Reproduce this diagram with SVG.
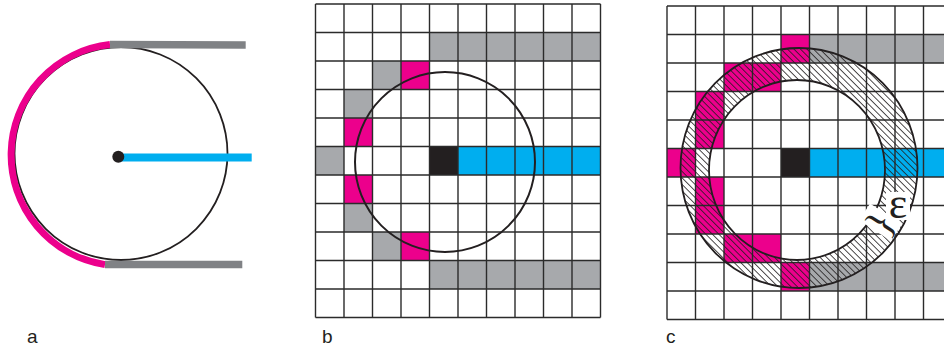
<svg xmlns="http://www.w3.org/2000/svg" width="944" height="350" viewBox="0 0 944 350">
<style>
.grid{fill:none;stroke:#2b2b2b;stroke-width:1.4}
.mag{fill:#EC008C}
.gry{fill:#A7A9AC}
.blk{fill:#231F20}
.cyn{fill:#00AEEF}
.circ{fill:none;stroke:#231F20;stroke-width:1.8}
.lbl{font-family:"Liberation Sans",Arial,sans-serif;font-size:19px;fill:#231F20}
.serif{font-family:"Liberation Serif","Times New Roman",serif;fill:#231F20}
</style>
<defs>
<pattern id="hatch" patternUnits="userSpaceOnUse" width="4.6" height="4.6" patternTransform="rotate(-45)">
<line x1="2.3" y1="0" x2="2.3" y2="4.6" stroke="#231F20" stroke-width="0.8"/>
</pattern>
</defs>
<rect width="944" height="350" fill="#fff"/>

<g id="panel-a">
<circle class="circ" cx="121" cy="153.5" r="106.5"/>
<path d="M110,44.6 A111,111 0 0 0 105,264.6" fill="none" stroke="#EC008C" stroke-width="7"/>
<line x1="110" y1="44.6" x2="245.7" y2="44.9" stroke="#808285" stroke-width="7.5"/>
<line x1="105" y1="264.6" x2="242.3" y2="264.6" stroke="#808285" stroke-width="7.5"/>
<line x1="118" y1="157.5" x2="251.7" y2="157.5" stroke="#00AEEF" stroke-width="8"/>
<circle cx="118.3" cy="156.8" r="6" class="blk"/>
</g>

<g id="panel-b">
<rect class="gry" x="429.5" y="32.5" width="171" height="28.5"/>
<rect class="gry" x="372.5" y="61" width="28.5" height="28.5"/>
<rect class="gry" x="344" y="89.5" width="28.5" height="28.5"/>
<rect class="gry" x="315.5" y="146.5" width="28.5" height="28.5"/>
<rect class="gry" x="344" y="203.5" width="28.5" height="28.5"/>
<rect class="gry" x="372.5" y="232" width="28.5" height="28.5"/>
<rect class="gry" x="429.5" y="260.5" width="171" height="28.5"/>
<rect class="mag" x="401" y="61" width="28.5" height="28.5"/>
<rect class="mag" x="344" y="118" width="28.5" height="28.5"/>
<rect class="mag" x="344" y="175" width="28.5" height="28.5"/>
<rect class="mag" x="401" y="232" width="28.5" height="28.5"/>
<rect class="blk" x="429.5" y="146.5" width="28.5" height="28.5"/>
<rect class="cyn" x="458" y="146.5" width="142.5" height="28.5"/>
<path class="grid" d="M315.5,4V317.5M344,4V317.5M372.5,4V317.5M401,4V317.5M429.5,4V317.5M458,4V317.5M486.5,4V317.5M515,4V317.5M543.5,4V317.5M572,4V317.5M600.5,4V317.5M315.5,4H600.5M315.5,32.5H600.5M315.5,61H600.5M315.5,89.5H600.5M315.5,118H600.5M315.5,146.5H600.5M315.5,175H600.5M315.5,203.5H600.5M315.5,232H600.5M315.5,260.5H600.5M315.5,289H600.5M315.5,317.5H600.5"/>
<circle cx="445" cy="162" r="90" fill="none" stroke="#231F20" stroke-width="2"/>
</g>

<g id="panel-c">
<rect class="gry" x="809.5" y="34.5" width="135" height="28.5"/>
<rect class="gry" x="809.5" y="262.5" width="135" height="28.5"/>
<rect class="mag" x="781" y="34.5" width="28.5" height="28.5"/>
<rect class="mag" x="724" y="63" width="57" height="28.5"/>
<rect class="mag" x="695.5" y="91.5" width="28.5" height="57"/>
<rect class="mag" x="667" y="148.5" width="28.5" height="28.5"/>
<rect class="mag" x="695.5" y="177" width="28.5" height="57"/>
<rect class="mag" x="724" y="234" width="57" height="28.5"/>
<rect class="mag" x="781" y="262.5" width="28.5" height="28.5"/>
<rect class="blk" x="781" y="148.5" width="28.5" height="28.5"/>
<rect class="cyn" x="809.5" y="148.5" width="135" height="28.5"/>
<path class="grid" d="M667,6V319.5M695.5,6V319.5M724,6V319.5M752.5,6V319.5M781,6V319.5M809.5,6V319.5M838,6V319.5M866.5,6V319.5M895,6V319.5M923.5,6V319.5M667,6H944M667,34.5H944M667,63H944M667,91.5H944M667,120H944M667,148.5H944M667,177H944M667,205.5H944M667,234H944M667,262.5H944M667,291H944M667,319.5H944"/>
<path d="M917.5,168 A118.5,120 0 1 0 680.5,168 A118.5,120 0 1 0 917.5,168 Z M885,170 A88,90 0 1 0 709,170 A88,90 0 1 0 885,170 Z" fill="url(#hatch)" fill-rule="evenodd" stroke="#231F20" stroke-width="1.8"/>
<g transform="translate(880,223) rotate(-57)">
<rect x="-9" y="-19" width="20" height="38" fill="#fff"/>
<text class="serif" x="0" y="0" text-anchor="middle" dominant-baseline="central" font-size="40">}</text>
</g>
<rect x="886" y="192" width="24" height="28" fill="#fff"/>
<text class="serif" x="898" y="218" text-anchor="middle" font-size="44">ε</text>
</g>

<g id="labels">
<text class="lbl" x="27" y="343">a</text>
<text class="lbl" x="322" y="343">b</text>
<text class="lbl" x="666" y="343">c</text>
</g>
</svg>
